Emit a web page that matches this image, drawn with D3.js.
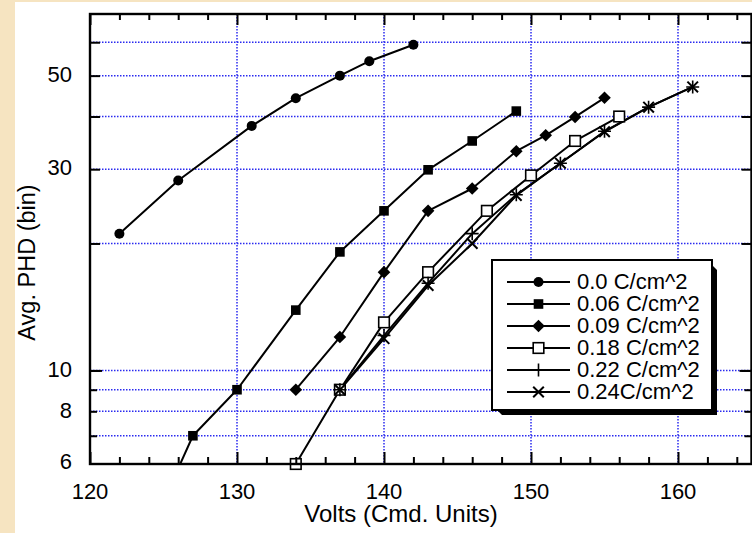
<!DOCTYPE html>
<html><head><meta charset="utf-8">
<script src="https://cdn.jsdelivr.net/npm/d3@7"></script>
<style>html,body{margin:0;padding:0;background:#f6e4c1;} svg{display:block}</style>
</head><body><svg id="c" width="752" height="533"></svg>
<script>
// ---------------- data ----------------
const xDomain = [120, 165];
const yDomain = [6, 70];
const xTickLabels = [120, 130, 140, 150, 160];
const xMinorTicks = [122,124,126,128,132,134,136,138,142,144,146,148,152,154,156,158,162,164];
const xGridValues = [130, 140, 150, 160];
const yTickLabels = [6, 8, 10, 30, 50];
const yGridValues = [7, 8, 9, 10, 20, 30, 40, 50, 60];
const yMinorTicks = [7, 8, 9];

const seriesNames = ["0.0 C/cm^2", "0.06 C/cm^2", "0.09 C/cm^2", "0.18 C/cm^2", "0.22 C/cm^2", "0.24C/cm^2"];
const seriesMarkers = ["circle", "square", "diamond", "openSquare", "plus", "cross"];

const volts00 = [122, 126, 131, 134, 137, 139, 142];
const phd00   = [21.1, 28.2, 38.0, 44.2, 50.0, 54.1, 59.2];

const volts06 = [125, 127, 130, 134, 137, 140, 143, 146, 149];
const phd06   = [4.9, 7.0, 9.0, 13.9, 19.1, 23.9, 29.9, 35.0, 41.2];

const volts09 = [134, 137, 140, 143, 146, 149, 151, 153, 155];
const phd09   = [9.0, 12.0, 17.1, 23.9, 27.0, 33.1, 36.1, 39.9, 44.3];

const volts18 = [134, 137, 140, 143, 147, 150, 153, 156];
const phd18   = [6.0, 9.0, 13.0, 17.1, 23.9, 29.0, 35.0, 40.0];

const volts22 = [137, 140, 143, 146, 149, 152, 155, 158, 161];
const phd22   = [9.0, 12.1, 16.1, 21.1, 26.1, 31.0, 36.9, 42.1, 47.0];

const volts24 = [137, 140, 143, 146, 149, 152, 155, 158, 161];
const phd24   = [9.0, 11.9, 15.9, 20.0, 26.0, 31.0, 36.8, 42.1, 47.0];

const seriesVolts = [volts00, volts06, volts09, volts18, volts22, volts24];
const seriesPhd   = [phd00, phd06, phd09, phd18, phd22, phd24];

// ---------------- layout ----------------
const W = 752, H = 533;
const L = 90, R = 751.5, T = 14, B = 464;
const FONT = "'Liberation Sans', Arial, Helvetica, sans-serif";

const svg = d3.select("#c");
svg.append("rect").attr("width", W).attr("height", H).attr("fill", "#f6e4c1");
svg.append("rect").attr("x", 15).attr("y", 2).attr("width", W - 15).attr("height", H - 2).attr("fill", "#ffffff");

const x = d3.scaleLinear().domain(xDomain).range([L, R]);
const y = d3.scaleLog().domain(yDomain).range([B, T]);

svg.append("defs").append("clipPath").attr("id", "plotclip")
  .append("rect").attr("x", L).attr("y", T).attr("width", R - L).attr("height", B - T);

// grid
const gridColor = "#2a2af0";
const grid = svg.append("g");
grid.selectAll("line.h").data(yGridValues).join("line")
  .attr("x1", L).attr("x2", R).attr("y1", d => y(d)).attr("y2", d => y(d))
  .attr("stroke", gridColor).attr("stroke-width", 1.5).attr("stroke-dasharray", "1.5,1.5");
grid.selectAll("line.v").data(xGridValues).join("line")
  .attr("y1", T).attr("y2", B).attr("x1", d => x(d)).attr("x2", d => x(d))
  .attr("stroke", gridColor).attr("stroke-width", 1.5).attr("stroke-dasharray", "1.5,1.5");

// lines
const lineGen = d3.line().x(d => x(d[0])).y(d => y(d[1]));
const plotG = svg.append("g");
const lineG = plotG.append("g").attr("clip-path", "url(#plotclip)");
seriesVolts.forEach((vs, i) => {
  const pts = vs.map((v, j) => [v, seriesPhd[i][j]]);
  lineG.append("path").datum(pts).attr("d", lineGen)
    .attr("fill", "none").attr("stroke", "#000").attr("stroke-width", 2).attr("stroke-linejoin", "round");
});

// markers
function drawMarker(g, type, cx, cy) {
  if (type === "circle") {
    g.append("circle").attr("cx", cx).attr("cy", cy).attr("r", 5).attr("fill", "#000");
  } else if (type === "square") {
    g.append("rect").attr("x", cx - 4.8).attr("y", cy - 4.8).attr("width", 9.6).attr("height", 9.6).attr("fill", "#000");
  } else if (type === "diamond") {
    const r = 6.3;
    g.append("path").attr("d", `M${cx},${cy - r}L${cx + r},${cy}L${cx},${cy + r}L${cx - r},${cy}Z`).attr("fill", "#000");
  } else if (type === "openSquare") {
    g.append("rect").attr("x", cx - 5.3).attr("y", cy - 5.3).attr("width", 10.6).attr("height", 10.6)
      .attr("fill", "#fff").attr("stroke", "#000").attr("stroke-width", 1.6);
  } else if (type === "plus") {
    const r = 6.5;
    g.append("path").attr("d", `M${cx - r},${cy}H${cx + r}M${cx},${cy - r}V${cy + r}`)
      .attr("stroke", "#000").attr("stroke-width", 1.6).attr("fill", "none");
  } else if (type === "cross") {
    const r = 5.3;
    g.append("path").attr("d", `M${cx - r},${cy - r}L${cx + r},${cy + r}M${cx - r},${cy + r}L${cx + r},${cy - r}`)
      .attr("stroke", "#000").attr("stroke-width", 2).attr("fill", "none");
  }
}
const markG = plotG.append("g");
seriesVolts.forEach((vs, i) => {
  vs.forEach((v, j) => {
    const p = seriesPhd[i][j];
    if (p < yDomain[0] * 0.999) return;
    drawMarker(markG, seriesMarkers[i], x(v), y(p));
  });
});

// axes frame & ticks
const axG = svg.append("g");
const bottomAxis = d3.axisBottom(x).tickValues(xTickLabels).tickSize(-12).tickFormat("");
const bottomMinor = d3.axisBottom(x).tickValues(xMinorTicks).tickSize(-7).tickFormat("");
const topAxis = d3.axisTop(x).tickValues(xTickLabels).tickSize(-11).tickFormat("");
const topMinor = d3.axisTop(x).tickValues(xMinorTicks).tickSize(-6).tickFormat("");
function styleAxis(g) {
  g.select(".domain").remove();
  g.selectAll(".tick line").attr("stroke", "#000").attr("stroke-width", 2);
}
axG.append("g").attr("transform", `translate(0,${B})`).call(bottomAxis).call(styleAxis);
axG.append("g").attr("transform", `translate(0,${B})`).call(bottomMinor).call(styleAxis);
axG.append("g").attr("transform", `translate(0,${T})`).call(topAxis).call(styleAxis);
axG.append("g").attr("transform", `translate(0,${T})`).call(topMinor).call(styleAxis);

const yMajorTickVals = yGridValues.filter(v => !yMinorTicks.includes(v));
const leftMajor = d3.axisLeft(y).tickValues(yMajorTickVals).tickSize(-10).tickFormat("");
const leftTen = d3.axisLeft(y).tickValues([10]).tickSize(-12).tickFormat("");
const leftMinor = d3.axisLeft(y).tickValues(yMinorTicks).tickSize(-7).tickFormat("");
const rightMajor = d3.axisRight(y).tickValues(yMajorTickVals).tickSize(-10).tickFormat("");
const rightTen = d3.axisRight(y).tickValues([10]).tickSize(-12).tickFormat("");
const rightMinor = d3.axisRight(y).tickValues(yMinorTicks).tickSize(-7).tickFormat("");
[leftMajor, leftTen, leftMinor].forEach(a => axG.append("g").attr("transform", `translate(${L},0)`).call(a).call(styleAxis));
[rightMajor, rightTen, rightMinor].forEach(a => axG.append("g").attr("transform", `translate(${R},0)`).call(a).call(styleAxis));

axG.append("rect").attr("x", L).attr("y", T).attr("width", R - L).attr("height", B - T)
  .attr("fill", "none").attr("stroke", "#000").attr("stroke-width", 2.4);

// tick labels
const labG = svg.append("g").attr("font-family", FONT).attr("font-size", 22).attr("fill", "#000");
labG.selectAll("text.x").data(xTickLabels).join("text")
  .attr("x", d => x(d)).attr("y", 499).attr("text-anchor", "middle").text(d => d);
labG.selectAll("text.y").data(yTickLabels).join("text")
  .attr("x", 72).attr("y", d => y(d) + (d === 6 ? 4.5 : 6.2)).attr("text-anchor", "end").text(d => d);

// axis titles
svg.append("text").attr("x", 401).attr("y", 522).attr("text-anchor", "middle")
  .attr("font-family", FONT).attr("font-size", 24).text("Volts (Cmd. Units)");
svg.append("text").attr("transform", "translate(35,262.5) rotate(-90)").attr("text-anchor", "middle")
  .attr("font-family", FONT).attr("font-size", 23.5).text("Avg. PHD (bin)");

// legend
const lg = svg.append("g");
const lx = 492, ly = 260, lw = 220, lh = 150, sh = 5;
lg.append("path").attr("d", `M${lx + lw},${ly + sh}L${lx + lw + sh},${ly + sh * 2}V${ly + lh + sh}H${lx + sh * 2}L${lx + sh},${ly + lh}Z`)
  .attr("fill", "#000");
lg.append("rect").attr("x", lx).attr("y", ly).attr("width", lw).attr("height", lh)
  .attr("fill", "#fff").attr("stroke", "#000").attr("stroke-width", 2);
seriesNames.forEach((name, i) => {
  const cy = 282 + i * 22;
  lg.append("line").attr("x1", 507).attr("x2", 570).attr("y1", cy).attr("y2", cy)
    .attr("stroke", "#000").attr("stroke-width", 1.8);
  drawMarker(lg, seriesMarkers[i], 538.5, cy);
  lg.append("text").attr("x", 577).attr("y", cy + 7).attr("font-family", FONT).attr("font-size", 22).text(name);
});
</script>
</body></html>
